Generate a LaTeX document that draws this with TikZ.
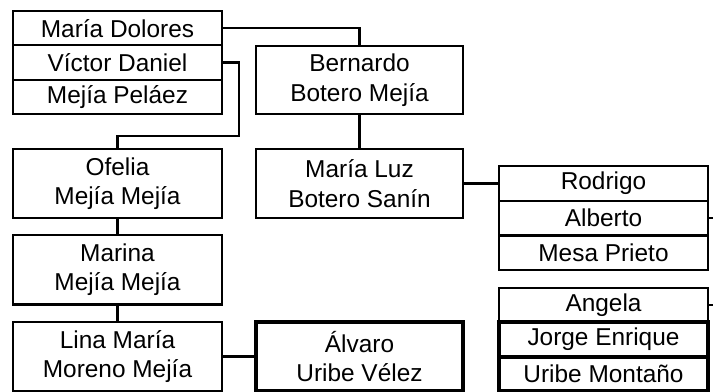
\documentclass[tikz,border=0pt]{standalone}
\usepackage{fontspec}
\setmainfont{Liberation Sans}
\begin{document}
\begin{tikzpicture}[x=1bp,y=-1bp,line width=2.2bp,
    box/.style={draw,rectangle,inner sep=0pt,minimum width=209bp,minimum height=#1,align=center,font=\fontsize{24.5}{29.5}\selectfont},
    box/.default=34.3bp,
    heavy/.style={line width=4.5bp}]
  \useasboundingbox (0,0) rectangle (713,391);
  \node[box] (md) at (117.5,28.15) {María Dolores};
  \node[box] (vd) at (117.5,62.45) {Víctor Daniel};
  \node[box] (mp) at (117.5,96.8) {Mejía Peláez};
  \node[box=68bp,minimum width=207bp] (bern) at (359.5,80) {Bernardo\\Botero Mejía};
  \node[box=69bp] (ofe) at (117.5,183.5) {Ofelia\\Mejía Mejía};
  \node[box=69bp,minimum width=207bp] (mluz) at (359.5,183.5) {María Luz\\Botero Sanín};
  \node[box=69.5bp] (mar) at (117.5,269.75) {Marina\\Mejía Mejía};
  \node[box=69bp] (lina) at (117.5,356.5) {Lina María\\Moreno Mejía};
  \node[box=69bp,minimum width=207bp,heavy] (alv) at (359.5,356.5) {Álvaro\\Uribe Vélez};
  \node[box] (rod) at (603.5,183.5) {Rodrigo};
  \node[box] (alb) at (603.5,218.25) {Alberto};
  \node[box] (mesa) at (603.5,252.75) {Mesa Prieto};
  \node[box] (ang) at (603.5,305) {Angela};
  \node[box=35bp,heavy] (jor) at (603.5,339.5) {Jorge Enrique};
  \node[box,heavy] (umo) at (603.5,374) {Uribe Montaño};
  \coordinate (vdturn) at (239,136);
  \coordinate (albend) at (713,218.25);
  \coordinate (angend) at (713,305);
  \draw (md.east) -- (md.east -| bern.north) -- (bern.north);
  \draw (vd.east) -| (vdturn) -| (ofe.north);
  \draw (bern) -- (mluz) (ofe) -- (mar) (mar) -- (lina);
  \draw (mluz.east) -- (rod.west) (lina.east) -- (alv.west);
  \draw (alb.east) -- (albend) (ang.east) -- (angend);
\end{tikzpicture}
\end{document}
